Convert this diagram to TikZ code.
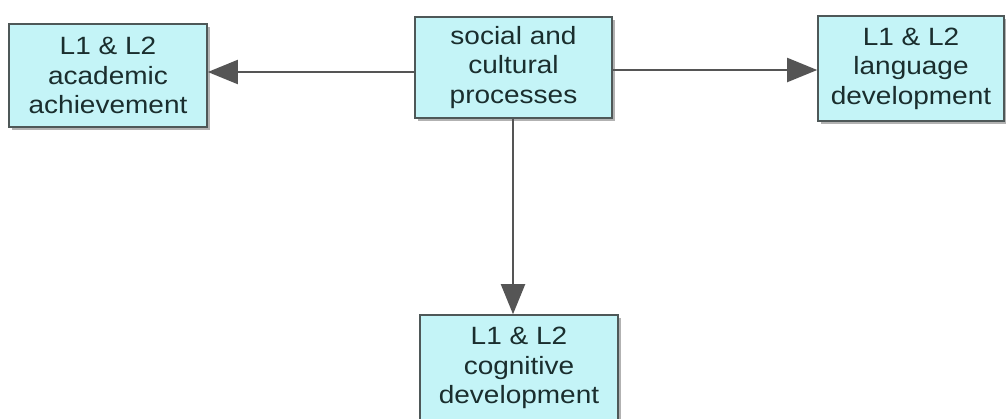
\documentclass[tikz,border=0pt]{standalone}
\usepackage{fontspec}
\setmainfont{Liberation Sans}[FakeStretch=1.12]
\usetikzlibrary{arrows.meta,shadows}
\definecolor{boxfill}{HTML}{C4F4F7}
\definecolor{boxedge}{HTML}{4E5858}
\definecolor{boxtext}{HTML}{1A2E2E}
\definecolor{linkcol}{HTML}{555555}
\tikzset{
  box/.style={draw=boxedge, line width=1.6pt, fill=boxfill, text=boxtext,
    align=center, inner sep=0pt,
    font=\fontsize{25}{29.5}\selectfont,
    drop shadow={shadow xshift=3pt, shadow yshift=-3pt, fill=black!55, opacity=.55}},
  link/.style={draw=linkcol, line width=2pt,
    -{Triangle[length=30pt,width=24pt]}}
}
\begin{document}
\begin{tikzpicture}[x=1pt,y=-1pt]
  \clip (0,0) rectangle (1006,418);
  \fill[white] (0,0) rectangle (1006,418);
  % boxes, sized in pixel units
  \node[box, minimum width=198pt, minimum height=103pt] (ach) at (108,75.5)
    {L1 \& L2\\academic\\achievement};
  \node[box, minimum width=197pt, minimum height=101pt] (soc) at (513.5,67.5)
    {social and\\cultural\\processes};
  \node[box, minimum width=186pt, minimum height=105pt] (lang) at (911,68.5)
    {L1 \& L2\\language\\development};
  \node[box, minimum width=198pt, minimum height=106pt] (cog) at (519,368)
    {L1 \& L2\\cognitive\\development};
  % connectors
  \draw[link] (soc.west |- 0,72) -- (ach.east |- 0,72);
  \draw[link] (soc.east |- 0,70) -- (lang.west |- 0,70);
  \draw[link] (soc.south -| 513,0) -- (cog.north -| 513,0);
\end{tikzpicture}
\end{document}
